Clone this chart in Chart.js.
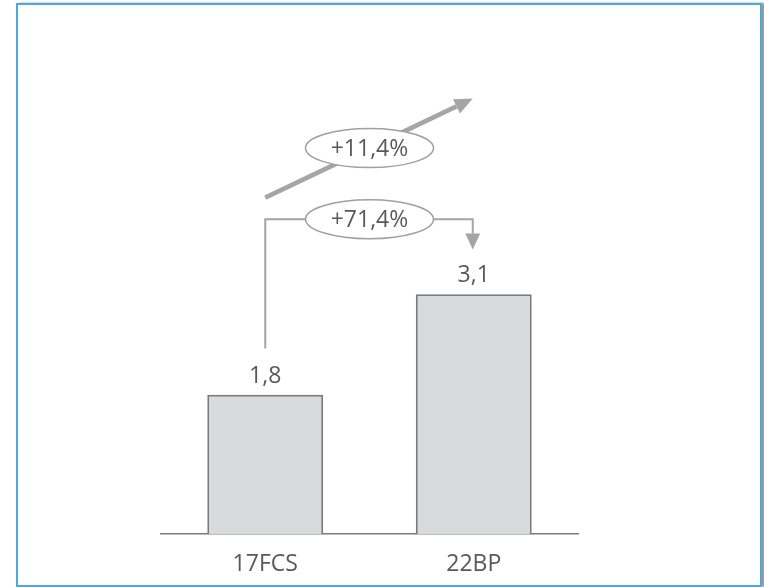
<!DOCTYPE html>
<html>
<head>
<meta charset="utf-8">
<script src="https://cdn.jsdelivr.net/npm/chart.js@4/dist/chart.umd.min.js"></script>
<style>
  html, body { margin: 0; padding: 0; background: #fff; }
  #wrap { position: relative; width: 764px; height: 587px; }
  #frame {
    position: absolute; left: 16px; top: 3px; width: 742px; height: 580px;
    border: 2px solid #4ba9dd; box-shadow: 3px 0 2px #9a9a9a; pointer-events: none;
  }
</style>
</head>
<body>
<div id="wrap">
  <canvas id="grafico" width="764" height="587"></canvas>
  <div id="frame"></div>
</div>
<script>
  // dados
  var categorias = ['17FCS', '22BP'];
  var valores = [1.8, 3.1];
  var crescimentoAnual = '+11,4%';
  var crescimentoTotal = '+71,4%';

  var corTexto = '#595959';
  var fonte = '"Open Sans", "Noto Sans", sans-serif';
  var tamFonte = 23;

  function formata(v) {
    return v.toFixed(1).replace('.', ',');
  }

  function elipse(ctx, cx, cy, texto) {
    ctx.save();
    ctx.beginPath();
    ctx.ellipse(cx, cy, 64, 19.5, 0, 0, Math.PI * 2);
    ctx.fillStyle = '#fff';
    ctx.fill();
    ctx.lineWidth = 1.5;
    ctx.strokeStyle = '#a0a0a0';
    ctx.stroke();
    ctx.fillStyle = corTexto;
    ctx.font = tamFonte + 'px ' + fonte;
    ctx.textAlign = 'center';
    ctx.textBaseline = 'middle';
    ctx.fillText(texto, cx, cy + 1);
    ctx.restore();
  }

  var rotulos = {
    id: 'rotulos',
    afterDatasetsDraw: function (chart) {
      var ctx = chart.ctx;
      var meta = chart.getDatasetMeta(0);
      ctx.save();
      ctx.fillStyle = corTexto;
      ctx.font = tamFonte + 'px ' + fonte;
      ctx.textAlign = 'center';
      ctx.textBaseline = 'alphabetic';
      meta.data.forEach(function (bar, i) {
        ctx.fillText(formata(valores[i]), bar.x, bar.y - 12);
      });
      ctx.restore();
    }
  };

  var setas = {
    id: 'setas',
    afterDatasetsDraw: function (chart) {
      var ctx = chart.ctx;
      var x = chart.scales.x, y = chart.scales.y;
      var xA = x.getPixelForValue(0), xB = x.getPixelForValue(1);
      var cor = '#a5a5a5';

      // colchete +71,4%
      var yBase = y.getPixelForValue(2.4);
      var yNivel = y.getPixelForValue(4.07);
      var yPonta = y.getPixelForValue(3.68);
      ctx.save();
      ctx.strokeStyle = cor;
      ctx.fillStyle = cor;
      ctx.lineWidth = 2;
      ctx.beginPath();
      ctx.moveTo(xA, yBase);
      ctx.lineTo(xA, yNivel);
      ctx.lineTo(xB - 1, yNivel);
      ctx.lineTo(xB - 1, yPonta - 16);
      ctx.stroke();
      ctx.beginPath();
      ctx.moveTo(xB - 8.5, yPonta - 16);
      ctx.lineTo(xB + 6.5, yPonta - 16);
      ctx.lineTo(xB - 1, yPonta);
      ctx.closePath();
      ctx.fill();

      // seta diagonal +11,4%
      var x1 = xA, y1 = y.getPixelForValue(4.35);
      var x2 = xB - 1, y2 = y.getPixelForValue(5.63);
      var ang = Math.atan2(y2 - y1, x2 - x1);
      var comp = 18, larg = 8;
      var bx = x2 - comp * Math.cos(ang), by = y2 - comp * Math.sin(ang);
      ctx.lineWidth = 4.5;
      ctx.beginPath();
      ctx.moveTo(x1, y1);
      ctx.lineTo(bx, by);
      ctx.stroke();
      ctx.beginPath();
      ctx.moveTo(x2, y2);
      ctx.lineTo(bx + larg * Math.sin(ang), by - larg * Math.cos(ang));
      ctx.lineTo(bx - larg * Math.sin(ang), by + larg * Math.cos(ang));
      ctx.closePath();
      ctx.fill();
      ctx.restore();

      elipse(ctx, (xA + xB) / 2, (y1 + y2) / 2, crescimentoAnual);
      elipse(ctx, (xA + xB) / 2, yNivel, crescimentoTotal);
    }
  };

  var ctx = document.getElementById('grafico').getContext('2d');
  var grafico = new Chart(ctx, {
    type: 'bar',
    data: {
      labels: categorias,
      datasets: [{
        data: valores,
        backgroundColor: '#d9dadb',
        borderColor: '#7a7a7a',
        borderWidth: 2,
        borderSkipped: 'bottom',
        barPercentage: 0.556,
        categoryPercentage: 1
      }]
    },
    options: {
      responsive: false,
      animation: false,
      events: [],
      layout: { padding: { left: 161, right: 186, top: 70, bottom: 10 } },
      plugins: { legend: { display: false }, tooltip: { enabled: false } },
      scales: {
        x: {
          grid: { display: false, drawTicks: false },
          border: { display: true, color: '#7a7a7a', width: 1.5 },
          ticks: { color: corTexto, padding: 17, font: { family: fonte, size: tamFonte } },
          afterFit: function (s) { s.height = 43; }
        },
        y: { display: false, min: 0, max: 6 }
      }
    },
    plugins: [rotulos, setas]
  });
</script>
</body>
</html>
